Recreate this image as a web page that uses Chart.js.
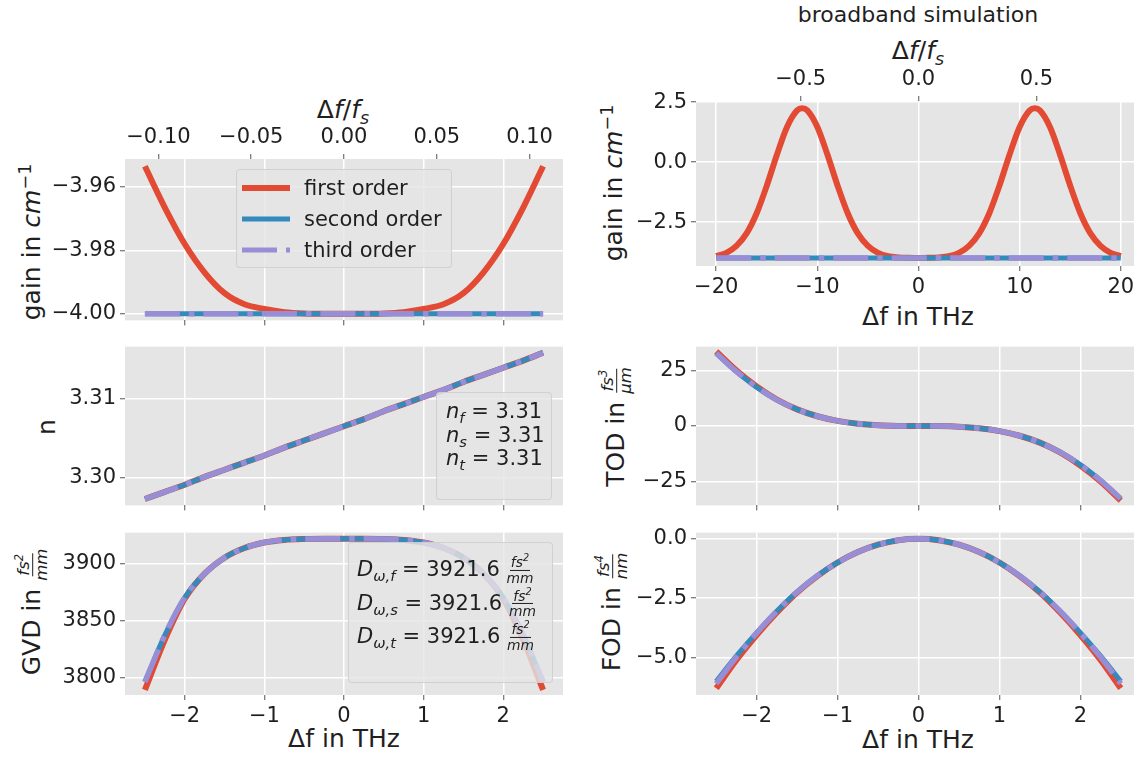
<!DOCTYPE html>
<html><head><meta charset="utf-8">
<script src="https://cdn.jsdelivr.net/npm/chart.js@4.4.1/dist/chart.umd.min.js"></script>
<style>
html,body{margin:0;padding:0;background:#fff;width:1134px;height:764px;overflow:hidden;position:relative;font-family:'DejaVu Sans',sans-serif;color:#1f1f1f}
canvas{position:absolute}
.t{position:absolute;white-space:nowrap;transform:translate(-50%,-50%);line-height:1.1;font-size:25px}
.yl{transform:translate(-50%,-50%) rotate(-90deg)}
sup,sub{font-size:0.7em;line-height:0}
.frac{display:inline-flex;flex-direction:column;align-items:center;vertical-align:middle;font-size:0.66em;font-style:italic;line-height:1.05}
.frac>span:first-child{border-bottom:1px solid currentColor;padding:0 1px}
.box{position:absolute;background:rgba(229,229,229,0.8);border:1px solid rgba(204,204,204,0.8);border-radius:4px;box-sizing:border-box;font-size:21px}
.row{position:absolute;white-space:nowrap;transform:translateY(-50%);line-height:1}
.h{position:absolute;height:5px;width:48px;transform:translateY(-50%)}
</style></head><body>

<div class="t" style="left:343px;top:110px">Δ<i>f</i>/<i>f</i><sub><i>s</i></sub></div>
<div class="t yl" style="left:32px;top:242px">gain in <i>cm</i><sup>−1</sup></div>
<div class="t yl" style="left:47px;top:427px">n</div>
<div class="t yl" style="left:33px;top:612px">GVD in <span class="frac"><span>fs<sup>2</sup></span><span>mm</span></span></div>
<div class="t" style="left:344px;top:739px">Δf in THz</div>

<div class="t" style="left:918px;top:15px;font-size:22px">broadband simulation</div>
<div class="t" style="left:918px;top:51px">Δ<i>f</i>/<i>f</i><sub><i>s</i></sub></div>
<div class="t yl" style="left:614px;top:183px">gain in <i>cm</i><sup>−1</sup></div>
<div class="t" style="left:918px;top:317px">Δf in THz</div>
<div class="t yl" style="left:617px;top:427px">TOD in <span class="frac"><span>fs<sup>3</sup></span><span>μm</span></span></div>
<div class="t yl" style="left:613px;top:612px">FOD in <span class="frac"><span>fs<sup>4</sup></span><span>nm</span></span></div>
<div class="t" style="left:918px;top:740px">Δf in THz</div>

<script>
// ---------- data ----------
const FS = 23.3; // THz, normalisation frequency of the top axes

const xNarrow = [-2.5,-2.25,-2.0,-1.75,-1.5,-1.25,-1.0,-0.75,-0.5,-0.25,0,0.25,0.5,0.75,1.0,1.25,1.5,1.75,2.0,2.25,2.5];

const gainFirst  = [-3.9535,-3.9665,-3.978,-3.987,-3.9935,-3.997,-3.9985,-3.9995,-3.9999,-4.0,-4.0,-4.0,-3.9999,-3.9995,-3.9985,-3.997,-3.9935,-3.987,-3.978,-3.9665,-3.9535];
const gainSecond = [-4.0,-4.0,-4.0,-4.0,-4.0,-4.0,-4.0,-4.0,-4.0,-4.0,-4.0,-4.0,-4.0,-4.0,-4.0,-4.0,-4.0,-4.0,-4.0,-4.0,-4.0];
const gainThird  = [-4.0,-4.0,-4.0,-4.0,-4.0,-4.0,-4.0,-4.0,-4.0,-4.0,-4.0,-4.0,-4.0,-4.0,-4.0,-4.0,-4.0,-4.0,-4.0,-4.0,-4.0];

const nFirst  = [3.2973,3.2982,3.2991,3.3001,3.3010,3.3019,3.3028,3.3038,3.3047,3.3056,3.3065,3.3074,3.3084,3.3093,3.3102,3.3111,3.3121,3.3130,3.3139,3.3148,3.3158];
const nSecond = [3.2973,3.2982,3.2991,3.3001,3.3010,3.3019,3.3028,3.3038,3.3047,3.3056,3.3065,3.3074,3.3084,3.3093,3.3102,3.3111,3.3121,3.3130,3.3139,3.3148,3.3158];
const nThird  = [3.2973,3.2982,3.2991,3.3001,3.3010,3.3019,3.3028,3.3038,3.3047,3.3056,3.3065,3.3074,3.3084,3.3093,3.3102,3.3111,3.3121,3.3130,3.3139,3.3148,3.3158];

const gvdFirst  = [3789,3833,3869,3891,3905,3913.5,3918.3,3920.6,3921.4,3921.6,3921.6,3921.6,3921.4,3920.6,3918.3,3913.5,3905,3891,3869,3833,3789];
const gvdSecond = [3796,3837,3870,3891,3905,3913.5,3918.3,3920.6,3921.4,3921.6,3921.6,3921.6,3921.4,3920.6,3918.3,3913.5,3905,3891,3870,3837,3796];
const gvdThird  = [3796,3837,3870,3891,3905,3913.5,3918.3,3920.6,3921.4,3921.6,3921.6,3921.6,3921.4,3920.6,3918.3,3913.5,3905,3891,3870,3837,3796];

const todFirst  = [33.6,25.0,17.8,11.9,7.5,4.4,2.3,1.0,0.3,0.04,0,-0.04,-0.3,-1.0,-2.3,-4.4,-7.5,-11.9,-17.8,-25.0,-33.6];
const todSecond = [32.8,24.5,17.5,11.8,7.5,4.4,2.3,1.0,0.3,0.04,0,-0.04,-0.3,-1.0,-2.3,-4.4,-7.5,-11.8,-17.5,-24.5,-32.8];
const todThird  = [32.8,24.5,17.5,11.8,7.5,4.4,2.3,1.0,0.3,0.04,0,-0.04,-0.3,-1.0,-2.3,-4.4,-7.5,-11.8,-17.5,-24.5,-32.8];

const fodFirst  = [-6.3,-5.1,-4.05,-3.1,-2.26,-1.57,-1.0,-0.56,-0.25,-0.06,0,-0.06,-0.25,-0.56,-1.0,-1.57,-2.26,-3.1,-4.05,-5.1,-6.3];
const fodSecond = [-6.0,-4.93,-3.95,-3.04,-2.24,-1.56,-1.0,-0.56,-0.25,-0.06,0,-0.06,-0.25,-0.56,-1.0,-1.56,-2.24,-3.04,-3.95,-4.93,-6.0];
const fodThird  = [-6.1,-4.98,-3.97,-3.05,-2.24,-1.56,-1.0,-0.56,-0.25,-0.06,0,-0.06,-0.25,-0.56,-1.0,-1.56,-2.24,-3.05,-3.97,-4.98,-6.1];

const xBroad = [-20,-19,-18,-17,-16,-15,-14,-13,-12,-11.5,-11,-10,-9,-8,-7,-6,-5,-4,-3,-2,-1,0,1,2,3,4,5,6,7,8,9,10,11,11.5,12,13,14,15,16,17,18,19,20];
const broadFirst  = [-3.92,-3.78,-3.49,-2.97,-2.13,-0.98,0.31,1.47,2.16,2.25,2.16,1.47,0.31,-0.98,-2.13,-2.97,-3.49,-3.78,-3.92,-3.97,-3.99,-4.0,-3.99,-3.97,-3.92,-3.78,-3.49,-2.97,-2.13,-0.98,0.31,1.47,2.16,2.25,2.16,1.47,0.31,-0.98,-2.13,-2.97,-3.49,-3.78,-3.92];
const broadSecond = [-4.0,-4.0,-4.0,-4.0,-4.0,-4.0,-4.0,-4.0,-4.0,-4.0,-4.0,-4.0,-4.0,-4.0,-4.0,-4.0,-4.0,-4.0,-4.0,-4.0,-4.0,-4.0,-4.0,-4.0,-4.0,-4.0,-4.0,-4.0,-4.0,-4.0,-4.0,-4.0,-4.0,-4.0,-4.0,-4.0,-4.0,-4.0,-4.0,-4.0,-4.0,-4.0,-4.0];
const broadThird  = [-4.0,-4.0,-4.0,-4.0,-4.0,-4.0,-4.0,-4.0,-4.0,-4.0,-4.0,-4.0,-4.0,-4.0,-4.0,-4.0,-4.0,-4.0,-4.0,-4.0,-4.0,-4.0,-4.0,-4.0,-4.0,-4.0,-4.0,-4.0,-4.0,-4.0,-4.0,-4.0,-4.0,-4.0,-4.0,-4.0,-4.0,-4.0,-4.0,-4.0,-4.0,-4.0,-4.0];

const seriesNames = ['first order','second order','third order'];
const xTicksNarrow = [-2,-1,0,1,2];
const xTicksBroad  = [-20,-10,0,10,20];
const topTicksNarrow = [-0.10,-0.05,0.00,0.05,0.10];
const topTicksBroad  = [-0.5,0.0,0.5];
const yTicksGain  = [-4.00,-3.98,-3.96];
const yTicksN     = [3.30,3.31];
const yTicksGVD   = [3800,3850,3900];
const yTicksBroad = [-2.5,0.0,2.5];
const yTicksTOD   = [-25,0,25];
const yTicksFOD   = [-5.0,-2.5,0.0];

const nValues = [3.31,3.31,3.31];
const dValues = [3921.6,3921.6,3921.6];

// ---------- style ----------
const RED='#E24A33', BLUE='#348ABD', PURPLE='#988ED5', TXT='#1f1f1f';
const PDASH=[35,9,5.5,9];
const tickFont={family:'DejaVu Sans',size:21};

function fmt(d){return v=>(v<0?'\u2212':'')+Math.abs(v).toFixed(d);}
function pts(xs,ys){return xs.map((x,i)=>({x:x,y:ys[i]}));}

const bgPlugin={id:'bg',beforeDraw(c){const a=c.chartArea,ctx=c.ctx;ctx.save();ctx.fillStyle='#E5E5E5';ctx.fillRect(a.left,a.top,a.right-a.left,a.bottom-a.top);ctx.restore();}};

function axis(pos,min,max,ticks,labelFmt,size,onArea){
  const horiz=(pos==='top'||pos==='bottom');
  return {
    type:'linear',position:pos,min:min,max:max,
    afterBuildTicks:s=>{s.ticks=ticks.map(v=>({value:v}));},
    afterFit:s=>{if(horiz)s.height=size;else s.width=size;},
    ticks:{display:true,autoSkip:false,maxRotation:0,padding:4,font:tickFont,color:TXT,
           callback:labelFmt?labelFmt:()=>''},
    grid:{display:true,drawOnChartArea:onArea,color:'#ffffff',lineWidth:1.5,tickColor:'#555555',tickLength:5,tickWidth:1},
    border:{display:false}
  };
}

function panel(o){
  const cv=document.createElement('canvas');
  const W=o.padL+o.plotW+o.padR, H=o.padT+o.plotH+o.padB;
  cv.width=W;cv.height=H;
  cv.style.left=(o.plotX-o.padL)+'px';cv.style.top=(o.plotY-o.padT)+'px';
  cv.style.width=W+'px';cv.style.height=H+'px';
  document.body.appendChild(cv);
  const ds=[
    {label:seriesNames[0],data:pts(o.xs,o.y1),borderColor:RED,borderWidth:6,order:3},
    {label:seriesNames[1],data:pts(o.xs,o.y2),borderColor:BLUE,borderWidth:5,order:2},
    {label:seriesNames[2],data:pts(o.xs,o.y3),borderColor:PURPLE,borderWidth:5.5,borderDash:PDASH,order:1}
  ].map(d=>Object.assign(d,{pointRadius:0,fill:false,cubicInterpolationMode:'monotone',borderCapStyle:'butt'}));
  const scales={
    x:axis('bottom',o.xMin,o.xMax,o.xTicks,o.xLabels?fmt(0):null,o.padB,true),
    y:axis('left',o.yMin,o.yMax,o.yTicks,fmt(o.yDec),o.padL,true)
  };
  if(o.topTicks){scales.x2=axis('top',o.xMin/FS,o.xMax/FS,o.topTicks,fmt(o.topDec),o.padT,false);}
  new Chart(cv,{type:'line',data:{datasets:ds},
    options:{responsive:false,animation:false,events:[],
      layout:{padding:{left:0,right:o.padR,top:o.topTicks?0:o.padT,bottom:0}},
      plugins:{legend:{display:false},tooltip:{enabled:false}},
      scales:scales},
    plugins:[bgPlugin]});
}

const L={plotX:125,plotW:438,padL:125,padR:10,xMin:-2.75,xMax:2.75,xs:xNarrow,xTicks:xTicksNarrow};
const R={plotX:696,plotW:445,padL:96,padR:10,xMin:-2.75,xMax:2.75,xs:xNarrow,xTicks:xTicksNarrow};

panel(Object.assign({},L,{plotY:159,plotH:166,padT:49,padB:12,y1:gainFirst,y2:gainSecond,y3:gainThird,
  yMin:-4.0021,yMax:-3.9512,yTicks:yTicksGain,yDec:2,topTicks:topTicksNarrow,topDec:2}));
panel(Object.assign({},L,{plotY:344,plotH:166,padT:14,padB:12,y1:nFirst,y2:nSecond,y3:nThird,
  yMin:3.29649,yMax:3.31657,yTicks:yTicksN,yDec:2}));
panel(Object.assign({},L,{plotY:530,plotH:165,padT:14,padB:69,y1:gvdFirst,y2:gvdSecond,y3:gvdThird,
  yMin:3784.5,yMax:3927,yTicks:yTicksGVD,yDec:0,xLabels:true}));

panel(Object.assign({},R,{plotY:101,plotH:165,padT:41,padB:45,xs:xBroad,xMin:-22,xMax:22,xTicks:xTicksBroad,xLabels:true,
  y1:broadFirst,y2:broadSecond,y3:broadThird,yMin:-4.33,yMax:2.55,yTicks:yTicksBroad,yDec:1,topTicks:topTicksBroad,topDec:1}));
panel(Object.assign({},R,{plotY:344,plotH:166,padT:14,padB:12,y1:todFirst,y2:todSecond,y3:todThird,
  yMin:-35.8,yMax:35.8,yTicks:yTicksTOD,yDec:0}));
panel(Object.assign({},R,{plotY:530,plotH:165,padT:14,padB:69,y1:fodFirst,y2:fodSecond,y3:fodThird,
  yMin:-6.58,yMax:0.26,yTicks:yTicksFOD,yDec:1,xLabels:true}));

// ---------- legend & annotation boxes (HTML text) ----------
function el(tag,cls,style,html){const e=document.createElement(tag);if(cls)e.className=cls;if(style)e.style.cssText=style;if(html!==undefined)e.innerHTML=html;return e;}
const leg=el('div','box','left:236px;top:169px;width:216px;height:99px');
const legColors=[RED,BLUE,PURPLE];
const legY=[18,49,80];
seriesNames.forEach((nm,i)=>{
  let bg=legColors[i];
  if(i===2)bg='repeating-linear-gradient(90deg,'+PURPLE+' 0 35px,transparent 35px 44px,'+PURPLE+' 44px 49.5px,transparent 49.5px 58.5px)';
  leg.appendChild(el('div','h','left:5px;top:'+legY[i]+'px;height:'+(i===0?6:5)+'px;background:'+bg));
  leg.appendChild(el('div','row','left:67px;top:'+legY[i]+'px',nm));
});
document.body.appendChild(leg);

const nb=el('div','box','left:436px;top:392px;width:116px;height:108px');
['f','s','t'].forEach((s,i)=>{
  nb.appendChild(el('div','row','left:9px;top:'+(18+i*23.5)+'px','<i>n</i><sub><i>'+s+'</i></sub> = '+nValues[i].toFixed(2)));
});
document.body.appendChild(nb);

const db=el('div','box','left:348px;top:542px;width:205px;height:141px');
['f','s','t'].forEach((s,i)=>{
  db.appendChild(el('div','row','left:8px;top:'+(27+i*33.5)+'px',
    '<i>D</i><sub><i>ω,'+s+'</i></sub> = '+dValues[i].toFixed(1)+' <span class="frac"><span>fs<sup>2</sup></span><span>mm</span></span>'));
});
document.body.appendChild(db);
</script>
</body></html>
